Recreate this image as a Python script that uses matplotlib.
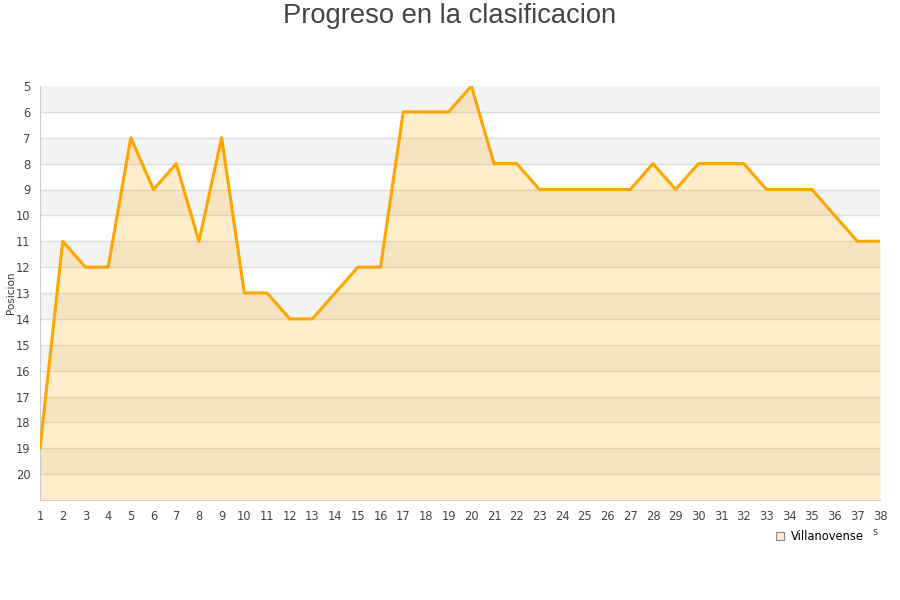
import numpy as np
import matplotlib.pyplot as plt
from matplotlib.lines import Line2D

jornadas = list(range(1, 39))
posicion = [19, 11, 12, 12, 7, 9, 8, 11, 7, 13, 13, 14, 14, 13, 12, 12, 6, 6, 6, 5,
            8, 8, 9, 9, 9, 9, 9, 8, 9, 8, 8, 8, 9, 9, 9, 10, 11, 11]
equipo = "Villanovense"

fig = plt.figure(figsize=(9, 6), dpi=100)
ax = fig.add_axes([40/900, 1-500/600, 840/900, 414/600])

# bandas alternas
for y0 in range(5, 21, 2):
    ax.axhspan(y0, y0 + 1, color='#f3f3f3', lw=0, zorder=0)
for y in range(6, 21):
    ax.axhline(y, color='#dddddd', lw=1, zorder=1)

ax.fill_between(jornadas, posicion, 21, color='#ffa500', alpha=0.2, lw=0, zorder=2)
ax.plot(jornadas, posicion, color='#ffa500', lw=2.2, zorder=3)

ax.set_xlim(1, 38)
ax.set_ylim(21, 5)
ax.set_xticks(jornadas)
ax.set_yticks(range(5, 21))
ax.tick_params(length=0, labelsize=8.3, colors='#444444', pad=7)
for s in ['top', 'right']:
    ax.spines[s].set_visible(False)
for s in ['left', 'bottom']:
    ax.spines[s].set_color('#cccccc')

ax.set_ylabel('Posicion', fontsize=7.5, color='#333333')
ax.yaxis.set_label_coords(-0.029, 0.5)

fig.text(0.5, 0.995, 'Progreso en la clasificacion', ha='center', va='top',
         fontsize=19.7, color='#444444', family='Liberation Sans')
fig.text(875/900, 1-535/600, 's', fontsize=7, color='#444444', ha='center')

handle = Line2D([], [], marker='s', ls='', markersize=6,
                markerfacecolor='#ffedcc', markeredgecolor='#888888', markeredgewidth=0.8)
fig.legend([handle], [equipo], loc='center', bbox_to_anchor=(819/900, 1-537/600),
           frameon=False, fontsize=8.3, handletextpad=0.5, handlelength=1)

fig.savefig('out.png', dpi=100)
